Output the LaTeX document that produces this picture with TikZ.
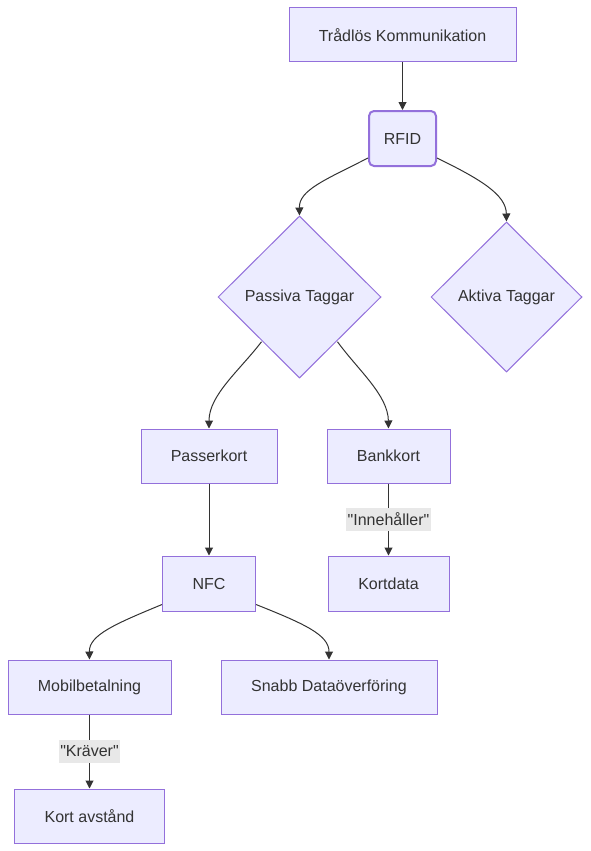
\documentclass[tikz,border=0pt]{standalone}
\usepackage{fontspec}
\setmainfont{Liberation Sans}[Ligatures=TeXOff]
\usetikzlibrary{shapes.geometric,arrows.meta,calc}
\definecolor{nfill}{HTML}{ECECFF}
\definecolor{nstroke}{HTML}{9370DB}
\definecolor{ntext}{HTML}{333333}
\definecolor{edgec}{HTML}{333333}
\definecolor{lblbg}{HTML}{E8E8E8}
\begin{document}
\begin{tikzpicture}[x=1pt,y=-1pt,
  font=\fontsize{16}{19}\selectfont,
  box/.style={draw=nstroke,fill=nfill,text=ntext,line width=1pt,inner sep=0pt,minimum height=54pt},
  dia/.style={draw=nstroke,fill=nfill,text=ntext,line width=1pt,diamond,inner sep=0pt},
  lbl/.style={fill=lblbg,text=ntext,inner sep=1.5pt,minimum height=23pt},
  edge/.style={draw=edgec,line width=1pt,-{Triangle[length=8pt,width=8pt]}}]
\useasboundingbox (0,0) rectangle (590,851);
\node[box,minimum width=227pt] (tk) at (402.5,35) {Trådlös Kommunikation};
\node[box,minimum width=67pt,minimum height=55pt,rounded corners=5pt,line width=2pt] (rfid) at (402.5,138.5) {RFID};
\node[dia,minimum width=163pt,minimum height=162pt] (pas) at (299.5,297) {Passiva Taggar};
\node[dia,minimum width=151pt,minimum height=150pt] (akt) at (506.5,297) {Aktiva Taggar};
\node[box,minimum width=136pt] (pk) at (209,456) {Passerkort};
\node[box,minimum width=123pt] (bk) at (388.5,456) {Bankkort};
\node[box,minimum width=93pt,minimum height=55pt] (nfc) at (209,583.5) {NFC};
\node[box,minimum width=121pt,minimum height=55pt] (kd) at (388.5,583.5) {Kortdata};
\node[box,minimum width=163pt] (mb) at (89.5,687) {Mobilbetalning};
\node[box,minimum width=216pt] (sd) at (329,687) {Snabb Dataöverföring};
\node[box,minimum width=150pt] (ka) at (89.5,816) {Kort avstånd};

\draw[edge] (tk) -- (rfid);
\draw[edge] ([yshift=9pt]rfid.south west) .. controls (325,180) and (299,190) .. (pas.north);
\draw[edge] ([yshift=9pt]rfid.south east) .. controls (482,180) and (506,195) .. (akt.north);
\draw[edge] ([shift={(3pt,-4pt)}]pas.south west) .. controls (240,370) and (209,395) .. (pk.north);
\draw[edge] ([shift={(-3pt,-4pt)}]pas.south east) .. controls (358,370) and (388,395) .. (bk.north);
\draw[edge] (pk) -- (nfc);
\draw[edge] (bk) -- node[lbl] (l1) {"Innehåller"} (kd);
\draw[edge] ([yshift=7pt]nfc.south west) .. controls (115,624) and (89,635) .. (mb.north);
\draw[edge] ([yshift=7pt]nfc.south east) .. controls (305,624) and (329,635) .. (sd.north);
\draw[edge] (mb) -- node[lbl] (l2) {"Kräver"} (ka);
\end{tikzpicture}
\end{document}
